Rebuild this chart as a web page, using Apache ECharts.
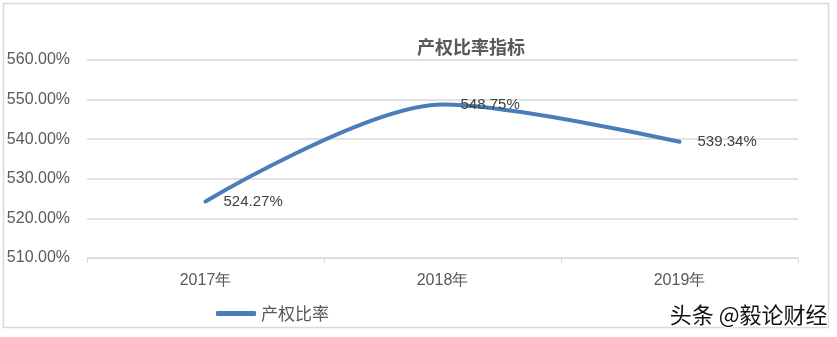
<!DOCTYPE html>
<html><head><meta charset="utf-8">
<script src="https://cdn.jsdelivr.net/npm/echarts@6/dist/echarts.min.js"></script>
<style>html,body{margin:0;padding:0;background:#fff}#c{width:837px;height:337px}</style>
</head><body><div id="c"></div>
<script>
var categories = ['2017年', '2018年', '2019年'];
var ratioValues = [524.27, 548.75, 539.34];
var seriesName = '产权比率';
var chartTitle = '产权比率指标';

var chart = echarts.init(document.getElementById('c'), null, {renderer: 'canvas'});
chart.setOption({
  animation: false,
  title: {text: chartTitle, left: 466, textAlign: 'center', top: 33,
    textStyle: {fontSize: 18, fontWeight: 'bold', color: '#595959', fontFamily: 'Noto Sans CJK SC'}},
  grid: {left: 87, right: 39, top: 60, bottom: 79},
  legend: {data: [seriesName], left: 211, top: 300, itemWidth: 40, itemHeight: 5, itemGap: 4,
    icon: 'roundRect',
    textStyle: {fontSize: 17, color: '#595959', fontFamily: 'Noto Sans CJK SC'}},
  xAxis: {type: 'category', data: categories, boundaryGap: true,
    axisLine: {lineStyle: {color: '#d9d9d9', width: 1}},
    axisTick: {show: true, length: 5, lineStyle: {color: '#d9d9d9'}},
    axisLabel: {fontSize: 16, color: '#595959', margin: 15, fontFamily: 'Liberation Sans'}},
  yAxis: {type: 'value', min: 510, max: 560, interval: 10,
    axisLine: {show: false}, axisTick: {show: false},
    splitLine: {lineStyle: {color: '#d9d9d9', width: 1.5}},
    axisLabel: {formatter: function(v){return v.toFixed(2)+'%';}, fontSize: 16, color: '#595959', margin: 17,
      fontFamily: 'Liberation Sans'}},
  series: [{name: seriesName, type: 'line', data: ratioValues, smooth: 0.3,
    symbol: 'circle', symbolSize: 2, showSymbol: true, showAllSymbol: true,
    lineStyle: {width: 4, color: '#4a7ebb', cap: 'round'}, itemStyle: {color: '#4a7ebb'},
    label: {show: true, position: 'right', distance: 17, formatter: function(p){return p.value.toFixed(2)+'%';},
      fontSize: 15, color: '#404040', fontFamily: 'Liberation Sans', offset: [0, 2]},
    labelLayout: {hideOverlap: false}}],
  graphic: [
    {type: 'rect', shape: {x: 3.5, y: 3.5, width: 825, height: 324}, style: {fill: 'none', stroke: '#d9d9d9', lineWidth: 1.5}, silent: true},
    {type: 'text', right: 8, top: 302, style: {text: '头条 @毅论财经', fontSize: 22, fill: '#111', stroke: '#fff', lineWidth: 3, fontFamily: 'Noto Sans CJK SC'}}
  ]
});
</script></body></html>
